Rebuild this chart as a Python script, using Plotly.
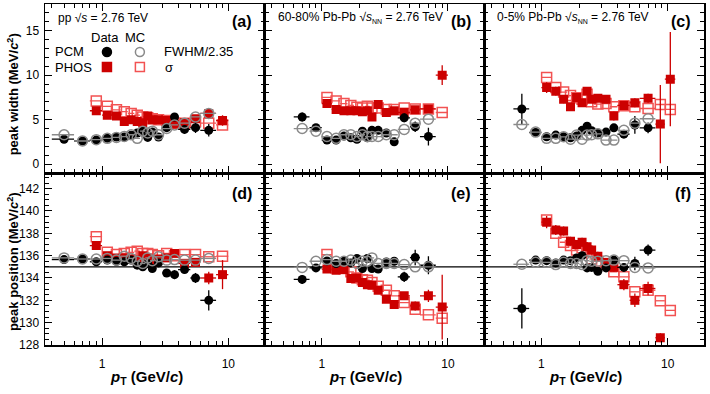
import math
import plotly.graph_objects as go
from plotly.subplots import make_subplots

# ---------------- data ----------------
# pT bin centres and half widths (GeV/c)
pcm_pt_pp = [0.5, 0.7, 0.9, 1.1, 1.3, 1.5, 1.7, 1.9, 2.1, 2.3, 2.5, 2.8, 3.25, 3.75, 4.5, 5.5, 7.0]
pcm_dpt_pp = [0.1, 0.1, 0.1, 0.1, 0.1, 0.1, 0.1, 0.1, 0.1, 0.1, 0.1, 0.2, 0.25, 0.25, 0.5, 0.5, 1.0]
pcm_pt_pb = [0.7, 0.9, 1.1, 1.3, 1.5, 1.7, 1.9, 2.1, 2.3, 2.5, 2.8, 3.25, 3.75, 4.5, 5.5, 7.0]
pcm_dpt_pb = [0.1, 0.1, 0.1, 0.1, 0.1, 0.1, 0.1, 0.1, 0.1, 0.1, 0.2, 0.25, 0.25, 0.5, 0.5, 1.0]
phos_pt_pp = [0.9, 1.1, 1.3, 1.5, 1.7, 1.9, 2.1, 2.3, 2.5, 2.8, 3.25, 3.75, 4.5, 5.5, 7.0, 9.0]
phos_dpt_pp = [0.1, 0.1, 0.1, 0.1, 0.1, 0.1, 0.1, 0.1, 0.1, 0.2, 0.25, 0.25, 0.5, 0.5, 1.0, 1.0]
phos_pt_per = [1.1, 1.3, 1.5, 1.7, 1.9, 2.1, 2.3, 2.5, 2.8, 3.25, 3.75, 4.5, 5.5, 7.0, 9.0]
phos_dpt_per = [0.1, 0.1, 0.1, 0.1, 0.1, 0.1, 0.1, 0.1, 0.2, 0.25, 0.25, 0.5, 0.5, 1.0, 1.0]
phos_pt_cen = [1.1, 1.3, 1.5, 1.7, 1.9, 2.1, 2.3, 2.5, 2.8, 3.25, 3.75, 4.5, 5.5, 7.0, 8.75, 10.5]
phos_dpt_cen = [0.1, 0.1, 0.1, 0.1, 0.1, 0.1, 0.1, 0.1, 0.2, 0.25, 0.25, 0.5, 0.5, 1.0, 0.75, 1.0]

# peak width (MeV/c^2)
wid_pcm_data_pp = [2.8, 2.6, 2.7, 2.9, 3.05, 3.05, 3.25, 3.5, 3.7, 3.0, 3.6, 3.05, 4.1, 5.3, 3.9, 4.1, 3.8]
wid_pcm_data_pp_err = [0.15, 0.1, 0.1, 0.1, 0.1, 0.1, 0.1, 0.15, 0.15, 0.15, 0.2, 0.2, 0.3, 0.3, 0.5, 0.6, 0.7]
wid_pcm_mc_pp = [3.3, 2.6, 2.75, 2.9, 3.0, 3.1, 3.3, 2.9, 3.7, 3.5, 3.7, 3.3, 4.0, 4.4, 4.6, 5.3, 5.7]
wid_phos_data_pp = [6.0, 5.5, 5.4, 4.8, 5.0, 4.8, 4.65, 5.4, 5.0, 5.0, 4.9, 4.5, 4.65, 5.1, 5.7, 4.9]
wid_phos_data_pp_err = [0.3, 0.3, 0.3, 0.25, 0.25, 0.25, 0.25, 0.3, 0.3, 0.3, 0.3, 0.3, 0.3, 0.3, 0.4, 0.6]
wid_phos_mc_pp = [7.1, 6.5, 6.1, 5.9, 5.7, 5.5, 5.3, 5.2, 5.1, 5.0, 4.9, 4.6, 4.6, 4.8, 4.6, 4.4]

wid_pcm_data_per = [5.3, 4.1, 2.7, 2.7, 3.15, 2.95, 2.8, 3.7, 2.95, 3.8, 3.8, 3.5, 2.5, 5.2, 4.2, 3.1]
wid_pcm_data_per_err = [0.5, 0.3, 0.15, 0.15, 0.15, 0.15, 0.15, 0.15, 0.2, 0.2, 0.2, 0.25, 0.3, 0.5, 0.6, 1.0]
wid_pcm_mc_per = [4.0, 3.7, 3.1, 2.9, 3.3, 3.3, 3.1, 3.3, 3.1, 3.1, 3.1, 3.3, 3.3, 3.9, 4.6, 5.05]
wid_phos_data_per = [6.8, 6.15, 6.0, 6.0, 6.0, 5.9, 6.0, 5.3, 6.7, 5.8, 6.0, 5.8, 6.1, 6.2, 10.0]
wid_phos_data_per_err = [0.3, 0.25, 0.25, 0.25, 0.25, 0.25, 0.25, 0.3, 0.3, 0.3, 0.3, 0.3, 0.35, 0.4, 1.1]
wid_phos_mc_per = [7.5, 7.1, 6.8, 6.6, 6.4, 6.3, 6.5, 6.3, 6.3, 6.15, 6.15, 6.3, 6.2, 6.2, 5.8]

wid_pcm_data_cen = [6.2, 3.55, 3.07, 3.26, 3.07, 2.95, 3.15, 3.8, 4.26, 3.75, 3.5, 3.6, 4.08, 3.37, 4.4, 4.08]
wid_pcm_data_cen_err = [1.7, 0.3, 0.2, 0.2, 0.15, 0.15, 0.2, 0.2, 0.25, 0.25, 0.3, 0.3, 0.35, 0.4, 1.0, 0.6]
wid_pcm_mc_cen = [4.45, 3.6, 2.9, 2.9, 3.07, 2.8, 3.26, 2.8, 3.26, 3.3, 3.4, 2.7, 2.7, 3.8, 4.6, 5.1]
wid_phos_data_cen = [8.6, 8.2, 7.3, 6.45, 7.5, 6.9, 8.2, 7.3, 7.4, 7.3, 5.4, 6.6, 6.9, 7.4, 4.5, 9.55]
wid_phos_data_cen_err = [0.6, 0.5, 0.45, 0.4, 0.4, 0.4, 0.4, 0.4, 0.4, 0.4, 0.5, 0.45, 0.5, 0.5, 4.4, 5.3]
wid_phos_mc_cen = [9.75, 8.6, 8.1, 7.7, 7.45, 7.3, 7.85, 7.0, 6.75, 6.8, 6.45, 6.55, 6.45, 6.25, 6.7, 6.15]

# peak position (MeV/c^2)
pos_pcm_data_pp = [135.65, 135.7, 135.45, 135.6, 135.5, 135.45, 135.6, 135.15, 135.0, 135.3, 134.85, 135.35, 134.45, 134.3, 134.75, 134.0, 132.0]
pos_pcm_data_pp_err = [0.1, 0.1, 0.1, 0.1, 0.1, 0.1, 0.1, 0.15, 0.15, 0.15, 0.2, 0.2, 0.25, 0.4, 0.35, 0.45, 0.9]
pos_pcm_mc_pp = [135.8, 135.7, 135.7, 135.75, 135.6, 135.95, 135.75, 135.5, 135.3, 135.8, 135.55, 135.9, 135.6, 135.65, 135.6, 135.6, 135.75]
pos_phos_data_pp = [136.9, 136.0, 135.8, 135.8, 135.7, 135.6, 136.0, 135.8, 135.4, 135.7, 135.8, 136.2, 135.3, 135.4, 134.0, 134.3]
pos_phos_data_pp_err = [0.3, 0.25, 0.25, 0.2, 0.2, 0.2, 0.2, 0.2, 0.25, 0.25, 0.25, 0.25, 0.3, 0.35, 0.55, 1.3]
pos_phos_mc_pp = [137.7, 136.3, 136.1, 136.2, 136.3, 136.4, 136.2, 136.2, 136.1, 136.0, 136.2, 136.0, 136.1, 136.1, 135.9, 135.95]

pos_pcm_data_per = [133.87, 134.9, 135.53, 135.3, 135.5, 135.35, 135.74, 134.85, 135.74, 134.85, 134.8, 135.44, 135.5, 134.1, 135.83, 135.14]
pos_pcm_data_per_err = [0.4, 0.25, 0.15, 0.15, 0.15, 0.15, 0.15, 0.2, 0.2, 0.2, 0.2, 0.25, 0.35, 0.45, 0.7, 0.8]
pos_pcm_mc_per = [134.95, 135.5, 135.65, 135.5, 135.5, 135.6, 135.3, 135.5, 135.5, 135.8, 135.3, 135.3, 135.3, 135.2, 135.0, 135.0]
pos_phos_data_per = [134.8, 134.7, 134.75, 133.95, 134.0, 133.6, 133.4, 133.35, 132.9, 132.1, 131.63, 132.4, 131.5, 132.4, 131.4]
pos_phos_data_per_err = [0.3, 0.25, 0.25, 0.25, 0.25, 0.25, 0.25, 0.25, 0.3, 0.3, 0.3, 0.35, 0.4, 0.55, 2.9]
pos_phos_mc_per = [136.1, 134.9, 134.85, 134.55, 134.0, 133.85, 133.8, 133.6, 133.25, 132.9, 132.4, 131.8, 131.2, 130.7, 130.4]

pos_pcm_data_cen = [131.27, 135.6, 135.55, 135.35, 135.6, 135.55, 135.8, 136.0, 134.9, 134.95, 134.6, 134.9, 135.6, 134.95, 135.3, 136.5]
pos_pcm_data_cen_err = [1.8, 0.3, 0.25, 0.25, 0.2, 0.2, 0.2, 0.25, 0.25, 0.25, 0.25, 0.3, 0.3, 0.35, 0.6, 0.5]
pos_pcm_mc_cen = [135.23, 135.4, 135.4, 135.2, 135.4, 135.3, 135.3, 135.2, 135.55, 135.5, 135.5, 135.55, 135.6, 135.55, 134.95, 134.9]
pos_phos_data_cen = [139.0, 138.3, 138.2, 137.3, 137.0, 137.2, 136.8, 136.5, 135.95, 135.4, 134.95, 133.4, 132.0, 133.06, 128.65]
pos_phos_data_cen_err = [0.55, 0.45, 0.4, 0.4, 0.4, 0.4, 0.4, 0.4, 0.4, 0.4, 0.4, 0.5, 0.6, 0.6, 0.4]
pos_phos_mc_cen = [139.2, 138.0, 137.2, 136.9, 136.5, 136.7, 136.4, 135.7, 135.5, 135.2, 134.55, 134.1, 132.76, 132.9, 131.96, 131.1]

panel_labels = ["(a)", "(b)", "(c)", "(d)", "(e)", "(f)"]
system_labels = ["pp √<i>s</i> = 2.76 TeV",
                 "60-80% Pb-Pb √<i>s</i><sub><span style='font-size:7px'>NN</span></sub> = 2.76 TeV",
                 "0-5% Pb-Pb √<i>s</i><sub><span style='font-size:7px'>NN</span></sub> = 2.76 TeV"]
pion_mass = 135.0

# ---------------- styling ----------------
FONT = "Liberation Sans, Arial, sans-serif"
BLACK = "#000000"
GREY = "#8a8a8a"
RED = "#cc0000"
PINK = "#f25252"

fig = make_subplots(rows=2, cols=3, horizontal_spacing=0, vertical_spacing=0,
                    row_heights=[169 / 341, 172 / 341])


def add(row, col, x, dx, y, dy, symbol, color, size, lw=0):
    fig.add_trace(go.Scatter(
        x=x, y=y, mode="markers",
        marker=dict(symbol=symbol, size=size, color=color,
                    line=dict(color=color, width=lw)),
        error_x=dict(type="data", array=dx, color=color, thickness=1.3, width=0),
        error_y=dict(type="data", array=dy, color=color, thickness=1.3, width=0,
                     visible=dy is not None),
        showlegend=False, cliponaxis=True, hoverinfo="skip"), row=row, col=col)


sets = [
    (1, 1, pcm_pt_pp, pcm_dpt_pp, phos_pt_pp, phos_dpt_pp,
     wid_pcm_data_pp, wid_pcm_data_pp_err, wid_pcm_mc_pp, wid_phos_data_pp, wid_phos_data_pp_err, wid_phos_mc_pp),
    (1, 2, pcm_pt_pb, pcm_dpt_pb, phos_pt_per, phos_dpt_per,
     wid_pcm_data_per, wid_pcm_data_per_err, wid_pcm_mc_per, wid_phos_data_per, wid_phos_data_per_err, wid_phos_mc_per),
    (1, 3, pcm_pt_pb, pcm_dpt_pb, phos_pt_cen, phos_dpt_cen,
     wid_pcm_data_cen, wid_pcm_data_cen_err, wid_pcm_mc_cen, wid_phos_data_cen, wid_phos_data_cen_err, wid_phos_mc_cen),
    (2, 1, pcm_pt_pp, pcm_dpt_pp, phos_pt_pp, phos_dpt_pp,
     pos_pcm_data_pp, pos_pcm_data_pp_err, pos_pcm_mc_pp, pos_phos_data_pp, pos_phos_data_pp_err, pos_phos_mc_pp),
    (2, 2, pcm_pt_pb, pcm_dpt_pb, phos_pt_per, phos_dpt_per,
     pos_pcm_data_per, pos_pcm_data_per_err, pos_pcm_mc_per, pos_phos_data_per, pos_phos_data_per_err, pos_phos_mc_per),
    (2, 3, pcm_pt_pb, pcm_dpt_pb, phos_pt_cen, phos_dpt_cen,
     pos_pcm_data_cen, pos_pcm_data_cen_err, pos_pcm_mc_cen, pos_phos_data_cen, pos_phos_data_cen_err, pos_phos_mc_cen),
]

for (r, c, px, pdx, hx, hdx, pd, pde, pm, hd, hde, hm) in sets:
    add(r, c, hx[:len(hm)], hdx[:len(hm)], hm, None, "square-open", PINK, 10, 1.5)
    add(r, c, hx[:len(hd)], hdx[:len(hd)], hd, hde, "square", RED, 9)
    add(r, c, px, pdx, pd, pde, "circle", BLACK, 9)
    add(r, c, px, pdx, pm, None, "circle-open", GREY, 10, 1.5)

major_x = [1, 10]
minor_x = [0.4, 0.5, 0.6, 0.7, 0.8, 0.9, 2, 3, 4, 5, 6, 7, 8, 9, 20]
axis_common = dict(showline=True, linecolor=BLACK, linewidth=1.5, mirror="allticks",
                   ticks="inside", ticklen=7, tickwidth=1, tickcolor=BLACK,
                   showgrid=False, zeroline=False, automargin=False,
                   tickfont=dict(family=FONT, size=12, color=BLACK))

for i in range(1, 7):
    row = 1 if i <= 3 else 2
    col = (i - 1) % 3 + 1
    fig.update_xaxes(type="log", range=[-0.452, 1.288], tickmode="array", tickvals=major_x,
                     ticktext=["1", "10"], showticklabels=(row == 2), ticklabelstandoff=7,
                     minor=dict(tickmode="array", tickvals=minor_x, ticks="inside", ticklen=4,
                                tickwidth=1, tickcolor=BLACK),
                     row=row, col=col, **axis_common)
    if row == 1:
        fig.update_yaxes(range=[-1, 18], tickmode="array", tickvals=[0, 5, 10, 15],
                         minor=dict(dtick=1, ticks="inside", ticklen=4, tickcolor=BLACK),
                         showticklabels=(col == 1), ticklabelstandoff=2,
                         row=row, col=col, **axis_common)
    else:
        fig.update_yaxes(range=[128, 143.4], tickmode="array",
                         tickvals=[128, 130, 132, 134, 136, 138, 140, 142],
                         minor=dict(dtick=0.5, tick0=128, ticks="inside", ticklen=4, tickcolor=BLACK),
                         showticklabels=(col == 1), ticklabelstandoff=2,
                         row=row, col=col, **axis_common)

# pion mass reference line
for ax in (4, 5, 6):
    fig.add_shape(type="line", xref=f"x{ax} domain", x0=0, x1=1, yref=f"y{ax}",
                  y0=pion_mass, y1=pion_mass, line=dict(color=BLACK, width=1.2), layer="below")

ann = []
# panel labels
for i, lab in enumerate(panel_labels):
    ax = "" if i == 0 else str(i + 1)
    ann.append(dict(text=f"<b>{lab}</b>", xref=f"x{ax} domain", yref=f"y{ax} domain",
                    x=0.95, y=0.895 if i < 3 else 0.88, xanchor="right", yanchor="middle",
                    showarrow=False, font=dict(family=FONT, size=16, color=BLACK)))
for i, lab in enumerate(system_labels):
    ax = "" if i == 0 else str(i + 1)
    ann.append(dict(text=lab, xref=f"x{ax} domain", yref=f"y{ax} domain",
                    x=0.05, y=0.92, xanchor="left", yanchor="middle",
                    showarrow=False, font=dict(family=FONT, size=12, color=BLACK)))

# legend block in panel (a)
leg_font = dict(family=FONT, size=13, color=BLACK)
for txt, x, y, anc in [("Data", 0.273, 0.80, "center"), ("MC", 0.41, 0.80, "center"),
                       ("PCM", 0.036, 0.716, "left"), ("PHOS", 0.036, 0.627, "left"),
                       ("FWHM/2.35", 0.533, 0.716, "left"), ("σ", 0.537, 0.627, "left")]:
    ann.append(dict(text=txt, xref="x domain", yref="y domain", x=x, y=y, xanchor=anc,
                    yanchor="middle", showarrow=False, font=leg_font))
for kind, x, y, fill, line in [("circle", 0.282, 0.716, BLACK, BLACK),
                               ("circle", 0.432, 0.716, "rgba(0,0,0,0)", GREY),
                               ("rect", 0.282, 0.627, RED, RED),
                               ("rect", 0.432, 0.627, "rgba(0,0,0,0)", PINK)]:
    fig.add_shape(type=kind, xref="x domain", yref="y domain", xsizemode="pixel", ysizemode="pixel",
                  xanchor=x, yanchor=y, x0=-4.5, x1=4.5, y0=-4.5, y1=4.5,
                  fillcolor=fill, line=dict(color=line, width=1.5))

# axis titles
title_font = dict(family=FONT, size=13, color=BLACK)
ann.append(dict(text="<b>peak width (MeV/<i>c</i><sup>2</sup>)</b>", xref="paper", yref="paper",
                x=-0.0486, y=0.735, xanchor="center", yanchor="middle",
                textangle=-90, showarrow=False, font=title_font))
ann.append(dict(text="<b>peak position (MeV/<i>c</i><sup>2</sup>)</b>", xref="paper", yref="paper",
                x=-0.0486, y=0.246, xanchor="center", yanchor="middle",
                textangle=-90, showarrow=False, font=title_font))
for ax in (4, 5, 6):
    ann.append(dict(text="<b><i>p</i><sub>T</sub> (GeV/<i>c</i>)</b>", xref=f"x{ax} domain", yref="paper",
                    x=0.46, y=-0.095, xanchor="center", yanchor="middle", showarrow=False,
                    font=dict(family=FONT, size=15, color=BLACK)))

fig.update_layout(width=710, height=394, margin=dict(l=45, r=6, t=4, b=49),
                  paper_bgcolor="white", plot_bgcolor="white", annotations=ann,
                  font=dict(family=FONT, color=BLACK), hovermode=False)

fig.write_html("out.html", config={"displayModeBar": False, "staticPlot": True},
               post_script="document.body.style.margin='0px';document.body.style.padding='0px';")
